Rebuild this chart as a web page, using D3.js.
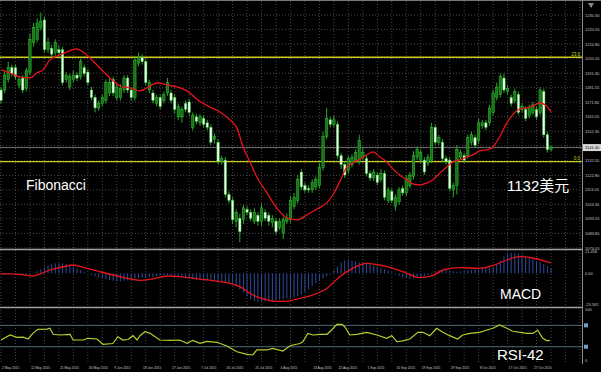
<!DOCTYPE html>
<html>
<head>
<meta charset="utf-8">
<script src="https://cdn.jsdelivr.net/npm/d3@7"></script>
<style>
html, body { margin: 0; padding: 0; background: #000; }
svg { display: block; }
text { font-family: "Liberation Sans", Arial, "Noto Sans CJK SC", sans-serif; }
</style>
</head>
<body>
<svg id="chart" width="601" height="372"></svg>
<script>
// Gold daily, May - Oct 2015
const opens  = [1180,1180,1187,1195,1195,1183,1188,1181,1192,1212,1214,1222,1227,1207,1208,1205,1207,1207,1187,1182,1187,1190,1189,1195,1192,1180,1175,1168,1171,1173,1178,1187,1175,1175,1180,1188,1180,1175,1198,1202,1199,1180,1178,1171,1175,1173,1178,1178,1175,1162,1162,1171,1172,1155,1162,1158,1161,1158,1155,1147,1145,1132,1133,1110,1106,1092,1094,1093,1100,1098,1092,1096,1092,1098,1096,1091,1092,1088,1084,1092,1093,1102,1106,1125,1116,1114,1113,1115,1116,1128,1149,1160,1157,1157,1136,1130,1126,1130,1133,1132,1135,1134,1124,1121,1123,1120,1124,1106,1112,1102,1105,1114,1111,1116,1122,1135,1133,1133,1131,1133,1155,1145,1145,1134,1133,1113,1116,1135,1136,1136,1145,1148,1146,1156,1158,1158,1165,1175,1177,1188,1179,1175,1173,1177,1167,1167,1163,1165,1167,1165,1179,1150,1140];
const highs  = [1182,1192,1199,1197,1197,1189,1190,1195,1218,1225,1228,1232,1229,1215,1210,1214,1210,1209,1192,1191,1193,1192,1201,1197,1194,1182,1177,1173,1177,1187,1188,1189,1184,1184,1190,1190,1182,1203,1205,1204,1201,1187,1180,1177,1177,1179,1188,1180,1177,1171,1169,1173,1174,1165,1164,1164,1163,1160,1157,1151,1147,1136,1135,1112,1108,1100,1097,1103,1102,1100,1101,1098,1104,1100,1098,1096,1094,1094,1095,1097,1109,1111,1123,1127,1118,1116,1120,1122,1131,1152,1168,1162,1163,1159,1138,1132,1136,1137,1140,1150,1141,1136,1126,1127,1125,1127,1126,1115,1114,1110,1115,1116,1123,1125,1139,1142,1140,1135,1137,1158,1157,1150,1147,1136,1135,1118,1143,1140,1138,1150,1152,1150,1161,1160,1160,1170,1180,1185,1191,1191,1183,1177,1181,1179,1171,1169,1170,1172,1169,1182,1181,1152,1143];
const lows   = [1171,1178,1185,1189,1187,1181,1178,1179,1190,1209,1212,1220,1205,1205,1202,1203,1203,1183,1185,1180,1185,1186,1187,1189,1183,1173,1165,1166,1169,1171,1176,1176,1173,1173,1178,1178,1173,1173,1196,1197,1183,1178,1171,1169,1167,1171,1176,1171,1164,1160,1158,1165,1163,1153,1157,1156,1155,1153,1143,1144,1130,1130,1108,1104,1090,1088,1078,1090,1096,1092,1090,1089,1089,1092,1089,1088,1083,1086,1080,1090,1091,1100,1104,1113,1111,1111,1111,1113,1114,1126,1147,1155,1155,1134,1127,1121,1124,1128,1131,1130,1133,1122,1119,1119,1116,1118,1106,1104,1104,1099,1103,1109,1109,1114,1120,1133,1131,1123,1129,1131,1143,1143,1132,1130,1112,1108,1110,1133,1131,1134,1143,1141,1144,1154,1153,1156,1163,1173,1175,1178,1177,1169,1171,1163,1165,1159,1161,1163,1160,1163,1148,1138,1139];
const closes = [1173,1190,1195,1191,1189,1187,1180,1193,1214,1222,1225,1226,1207,1212,1204,1212,1205,1185,1190,1189,1190,1188,1199,1191,1185,1175,1168,1171,1175,1185,1185,1178,1182,1181,1188,1180,1175,1200,1202,1199,1185,1185,1173,1175,1169,1177,1185,1173,1167,1169,1167,1167,1165,1163,1159,1162,1157,1155,1145,1149,1132,1134,1110,1106,1093,1098,1085,1101,1098,1094,1098,1092,1101,1094,1092,1094,1085,1092,1093,1094,1106,1108,1120,1115,1113,1113,1118,1120,1128,1149,1161,1157,1160,1136,1130,1123,1134,1135,1138,1146,1138,1124,1121,1125,1118,1124,1108,1113,1106,1108,1113,1111,1121,1123,1136,1140,1138,1125,1135,1155,1145,1148,1134,1132,1114,1116,1140,1138,1133,1148,1150,1143,1158,1158,1155,1168,1178,1182,1189,1180,1181,1171,1179,1165,1169,1161,1168,1170,1162,1180,1150,1140,1141.4];

// red moving average line (bar position, price)
const maIdx = [0,2.5,5.2,8,9.9,11.6,13.5,15.5,17.7,19.6,21,22.7,24.6,27.3,30.1,32.9,35.6,38.4,40.3,43.1,45.9,48.6,51.4,54.4,57.7,60.5,63.3,65.2,66.9,68.8,70.7,73.5,76.2,79,81.8,84.5,87.3,90,91.7,93.6,95.6,97.2,99.2,101.1,102.8,104.7,106.6,108.3,110.2,112.2,113.8,115.7,117.7,119.3,121.3,123.2,124.9,126.8,128.7,130.4,132.3,134.3,135.9,137.8,139.8,141.4,143.4,145.3,147,148.9,150.8,152];
const maVal = [1193.5,1191.4,1188.8,1188.1,1191.4,1193.5,1200.2,1202.8,1204.9,1206.9,1207.5,1205.5,1201.5,1194.8,1188.1,1182.7,1181.4,1179.4,1181.4,1184.7,1183.4,1182.1,1179.4,1173.3,1168.6,1165.3,1159.9,1154.6,1141.8,1131.8,1121.7,1111.0,1100.9,1094.2,1092.9,1096.2,1100.2,1104.3,1109.6,1118.4,1128.4,1131.1,1133.8,1136.5,1138.5,1135.1,1131.8,1127.1,1123.0,1119.7,1117.0,1116.3,1117.7,1119.7,1124.4,1128.4,1131.8,1133.1,1135.1,1136.5,1139.1,1139.8,1141.8,1148.5,1157.9,1163.3,1167.3,1168.0,1169.3,1171.3,1169.3,1165.3];

// MACD histogram, one value per bar
const macdHist = [-1,-1.5,-1,-0.5,-0.5,-1,-1.5,-1.5,-1,
  0.5,2,4,6,8,9.5,10,10,10,9.5,9,7,5,3,1.5,
  0,-1.5,-3,-4,-5,-6,-7,-7.5,-8,-8,-7.5,-7,-6,-5,-4.5,-4,-4,
  -3.5,-3.5,-3,-2.5,-2,-2,-2,-2.5,-3,
  -4,-5,-5.5,-6,-6.5,-7,-7,-7.5,-7.5,-8,-8,-8.5,-9,-9.5,
  -10.5,-13,-16,-19,-23,-26,-28,
  -28.5,-28.5,-28,-28,-27.5,-27,-26.5,-26,-25,-24.5,-24,-23,
  -21.5,-19,-16,-13,-10,-7,-5,-3,-1,
  3,7,11,13,13,12.5,12,11,10.5,
  10,9,8,7,5,4,2.5,1,
  -1,-2.5,-4,-5,-5.5,-5,-4.5,-4,-3,-2,-1,
  1.5,3,3.5,3.5,3,2,1.5,2,2.5,3,3.5,4,4,4.5,5,5.5,6.5,
  9,13,17,19.5,20.5,20.5,20,18.5,17,15.5,14,12.5,11,9,7,5];

// MACD signal line (bar position, value)
const sigIdx = [0,5.2,8.8,11.6,13.5,16.3,18.2,19.6,22.7,27.3,32.9,35.6,38.4,42,45.9,49.4,53,58.6,63.3,66,69.6,73.5,76.2,79.8,82.6,86.2,90.1,93.6,97.2,101.1,104.7,108.3,112.2,115.7,119.3,122.1,126.8,132.3,135.9,139.8,143.4,147,150.8,152];
const sigVal = [-0.3,-1,-2.7,0.5,3.3,5.8,7.3,8.3,6,1.6,-3.4,-5.5,-7,-5.5,-2.7,-3.4,-5,-7.4,-10,-13.4,-21.7,-26.5,-28,-27.5,-25,-21.7,-15,-3.4,5,10,8.3,5,0,-4.4,-2.4,3.3,5.6,5,7.6,13.3,16.6,15.3,11.6,10.3];

// RSI(42) line (bar position, value)
const rsiIdx = [0,2.5,4.4,6.1,7.5,8.8,10.2,12.7,13.5,14.4,16.3,19.1,19.9,22.7,24,26.5,28.2,30.9,32.3,33.7,35.1,36.5,37.6,38.4,39.8,41.2,43.9,46.7,49.4,51.4,53,55,56.9,59.7,62.4,65.2,68,69.6,70.7,73.5,75.1,77.9,79.8,80.7,82.6,83.4,84.8,86.2,88.1,90.1,91.4,92.8,94.2,95,96.4,98.3,101.1,103.9,106.6,108,109.4,111,113,115.2,116.6,118.5,120.4,122.1,124,126.2,127.6,129.6,132.3,134.3,135.9,137.8,139.8,141.4,145.3,147,148.3,149.7,150.8,151.7];
const rsiVal = [42.6,52,47.5,48,44.5,55,62.6,63,64.5,53.3,52,53.3,42.6,42.6,45.8,44.5,34.6,36,48.8,42.6,43.5,50.7,42.6,50.7,58,55,42.6,42,42.6,36.4,42,36.4,40,38.3,31.4,20.7,15.9,14.6,24,24,27,22,31.4,33.3,36,39.4,55,52,53.3,53.3,61.3,72,72,67.5,52,53.3,57,52,45.8,50.7,39.4,41,44.5,57,57,50.7,64.5,57,50.7,44.5,52,55,57,61.3,64.5,70.7,64.5,59,55,55,61.3,45.8,41.5,41.5];
const rsiLevels = [70, 30];

// axis labels
const priceTicks = [1230.30,1220.55,1210.80,1201.05,1191.30,1181.55,1171.80,1162.05,1152.30,1142.55,1132.55,1122.80,1113.05,1103.30,1093.55,1083.80,1074.05];
const tickIdx = [0,8,16,24,31,39,47,55,62,70,77,86,93,101,109,116,124,132,140,147];
const tickLabels = ["2 May 2015","12 May 2015","21 May 2015","30 May 2015","9 Jun 2015","18 Jun 2015","27 Jun 2015","7 Jul 2015","16 Jul 2015","25 Jul 2015","4 Aug 2015","13 Aug 2015","22 Aug 2015","1 Sep 2015","10 Sep 2015","19 Sep 2015","29 Sep 2015","8 Oct 2015","17 Oct 2015","27 Oct 2015"];

// Fibonacci levels
const fibLabels = ["23.6", "0.0"];
const fibPrices = [1202.0, 1132.0];

const svg = d3.select("#chart");
const W = 601, H = 372;
const plotRight = 582.5;

svg.append("rect").attr("width", W).attr("height", H).attr("fill", "#000");

// scales
const x = d3.scaleLinear().domain([0, closes.length - 1]).range([1, 551]);
const y = d3.scaleLinear().domain([1074.05, 1230.30]).range([248, 15]);
const yMacd = d3.scaleLinear().domain([-30, 22]).range([303.3, 251.3]);
const yRsi = d3.scaleLinear().domain([0, 100]).range([362.8, 309.3]);

// vertical grid, every 4 bars
svg.append("g").selectAll("line")
    .data(d3.range(0, 161, 4))
    .enter().append("line")
    .attr("x1", d => x(d)).attr("x2", d => x(d))
    .attr("y1", 1).attr("y2", 364)
    .attr("stroke", "#5a5a5a")
    .attr("stroke-width", 0.8)
    .attr("stroke-dasharray", "1,2");

// horizontal grid in main window
svg.append("g").selectAll("line")
    .data(priceTicks)
    .enter().append("line")
    .attr("x1", 0).attr("x2", plotRight)
    .attr("y1", d => y(d)).attr("y2", d => y(d))
    .attr("stroke", "#5a5a5a")
    .attr("stroke-width", 0.8)
    .attr("stroke-dasharray", "1,2");

// top border and window separators
svg.append("line").attr("x1", 0).attr("x2", W).attr("y1", 0.5).attr("y2", 0.5)
    .attr("stroke", "#777").attr("stroke-width", 1);
[249.5, 307.5].forEach(function(sy) {
    svg.append("line").attr("x1", 0).attr("x2", plotRight).attr("y1", sy).attr("y2", sy)
        .attr("stroke", "#a0a0a0").attr("stroke-width", 1.5);
});

// Fibonacci lines
fibPrices.forEach(function(p, i) {
    svg.append("line").attr("x1", 0).attr("x2", plotRight)
        .attr("y1", y(p)).attr("y2", y(p))
        .attr("stroke", "#cccc1e").attr("stroke-width", 1.4);
    svg.append("text").attr("x", 580).attr("y", y(p) - 1.5)
        .attr("text-anchor", "end")
        .attr("font-size", 4.5).attr("fill", "#cccc1e")
        .text(fibLabels[i]);
});

// current price line
const last = closes[closes.length - 1];
svg.append("line").attr("x1", 0).attr("x2", plotRight)
    .attr("y1", y(last)).attr("y2", y(last))
    .attr("stroke", "#6e6e6e").attr("stroke-width", 1);

// candles
const candles = closes.map(function(c, i) {
    return { i: i, o: opens[i], h: highs[i], l: lows[i], c: c };
});
let cg = svg.append("g");
cg.selectAll(".wick")
    .data(candles)
    .enter().append("line")
    .attr("class", "wick")
    .attr("x1", d => x(d.i)).attr("x2", d => x(d.i))
    .attr("y1", d => y(d.h)).attr("y2", d => y(d.l))
    .attr("stroke", "#2aa82a").attr("stroke-width", 1);
cg.selectAll(".body")
    .data(candles)
    .enter().append("rect")
    .attr("class", "body")
    .attr("x", d => x(d.i) - 1.2)
    .attr("width", 2.4)
    .attr("y", d => y(Math.max(d.o, d.c)))
    .attr("height", d => Math.max(1, Math.abs(y(d.o) - y(d.c))))
    .attr("fill", d => d.c >= d.o ? "#177317" : "#eaffea")
    .attr("stroke", "#35c435")
    .attr("stroke-width", 0.5);

// moving average
const lineMain = d3.line()
    .x(d => x(d[0])).y(d => y(d[1]))
    .curve(d3.curveMonotoneX);
svg.append("path")
    .datum(maIdx.map((v, i) => [v, maVal[i]]))
    .attr("d", lineMain)
    .attr("fill", "none")
    .attr("stroke", "#e8151b")
    .attr("stroke-width", 1.3);

// MACD histogram
svg.append("g").selectAll("line")
    .data(macdHist)
    .enter().append("line")
    .attr("x1", (d, i) => x(i)).attr("x2", (d, i) => x(i))
    .attr("y1", yMacd(0)).attr("y2", d => yMacd(d))
    .attr("stroke", "#2d4d9c").attr("stroke-width", 1);

// MACD signal
svg.append("path")
    .datum(sigIdx.map((v, i) => [v, sigVal[i]]))
    .attr("d", d3.line().x(d => x(d[0])).y(d => yMacd(d[1])).curve(d3.curveMonotoneX))
    .attr("fill", "none")
    .attr("stroke", "#e8151b")
    .attr("stroke-width", 1.3);

// RSI levels
rsiLevels.forEach(function(l) {
    svg.append("line").attr("x1", 0).attr("x2", plotRight)
        .attr("y1", yRsi(l)).attr("y2", yRsi(l))
        .attr("stroke", "#4e6c7a").attr("stroke-width", 1);
    svg.append("rect").attr("x", 584).attr("y", yRsi(l) - 2).attr("width", 4).attr("height", 4)
        .attr("fill", "#6fa0c8");
});

// RSI line
svg.append("path")
    .datum(rsiIdx.map((v, i) => [v, rsiVal[i]]))
    .attr("d", d3.line().x(d => x(d[0])).y(d => yRsi(d[1])))
    .attr("fill", "none")
    .attr("stroke", "#b9cd2c")
    .attr("stroke-width", 1.2);

// right axis
svg.append("line").attr("x1", plotRight).attr("x2", plotRight).attr("y1", 0).attr("y2", 364)
    .attr("stroke", "#8a8a8a").attr("stroke-width", 1);

// price labels, the one under the current price box is hidden
svg.append("g").selectAll("text")
    .data(priceTicks.filter(d => Math.abs(y(d) - y(last)) > 6))
    .enter().append("text")
    .attr("x", 585).attr("y", d => y(d) + 1.5)
    .attr("font-size", 4).attr("fill", "#c8c8c8")
    .text(d => d.toFixed(2));

// current price box
svg.append("rect").attr("x", 583).attr("y", y(last) - 3.5).attr("width", 18).attr("height", 7)
    .attr("fill", "#d8d8d8");
svg.append("text").attr("x", 585).attr("y", y(last) + 1.5)
    .attr("font-size", 4).attr("fill", "#000")
    .text(last.toFixed(2));

// MACD labels
svg.append("text").attr("x", 585).attr("y", yMacd(21.456) + 1.5)
    .attr("font-size", 4).attr("fill", "#c8c8c8").text("21.456");
svg.append("text").attr("x", 585).attr("y", yMacd(0) + 1.5)
    .attr("font-size", 4).attr("fill", "#c8c8c8").text("0.00");
svg.append("text").attr("x", 585).attr("y", 305.5)
    .attr("font-size", 4).attr("fill", "#c8c8c8").text("-23.592");

// RSI labels
svg.append("text").attr("x", 585).attr("y", yRsi(100) + 2)
    .attr("font-size", 4).attr("fill", "#c8c8c8").text("100");
svg.append("text").attr("x", 585).attr("y", yRsi(0) - 0.5)
    .attr("font-size", 4).attr("fill", "#c8c8c8").text("0");

// date labels
svg.append("g").selectAll("text")
    .data(tickIdx)
    .enter().append("text")
    .attr("x", d => x(d) + 1).attr("y", 368.5)
    .attr("font-size", 3.3).attr("fill", "#c8c8c8")
    .text((d, i) => tickLabels[i]);

// chart shift marker
svg.append("path").attr("d", "M588,3 L594,3 L591,8 Z").attr("fill", "#8a8a8a");

// annotations
svg.append("text").attr("x", 26).attr("y", 190).attr("font-size", 14).attr("fill", "#fff").text("Fibonacci");
svg.append("text").attr("x", 507).attr("y", 191).attr("font-size", 15).attr("fill", "#fff").text("1132美元");
svg.append("text").attr("x", 500).attr("y", 299).attr("font-size", 14).attr("fill", "#fff").text("MACD");
svg.append("text").attr("x", 497).attr("y", 360).attr("font-size", 15).attr("fill", "#fff").text("RSI-42");
</script>
</body>
</html>
